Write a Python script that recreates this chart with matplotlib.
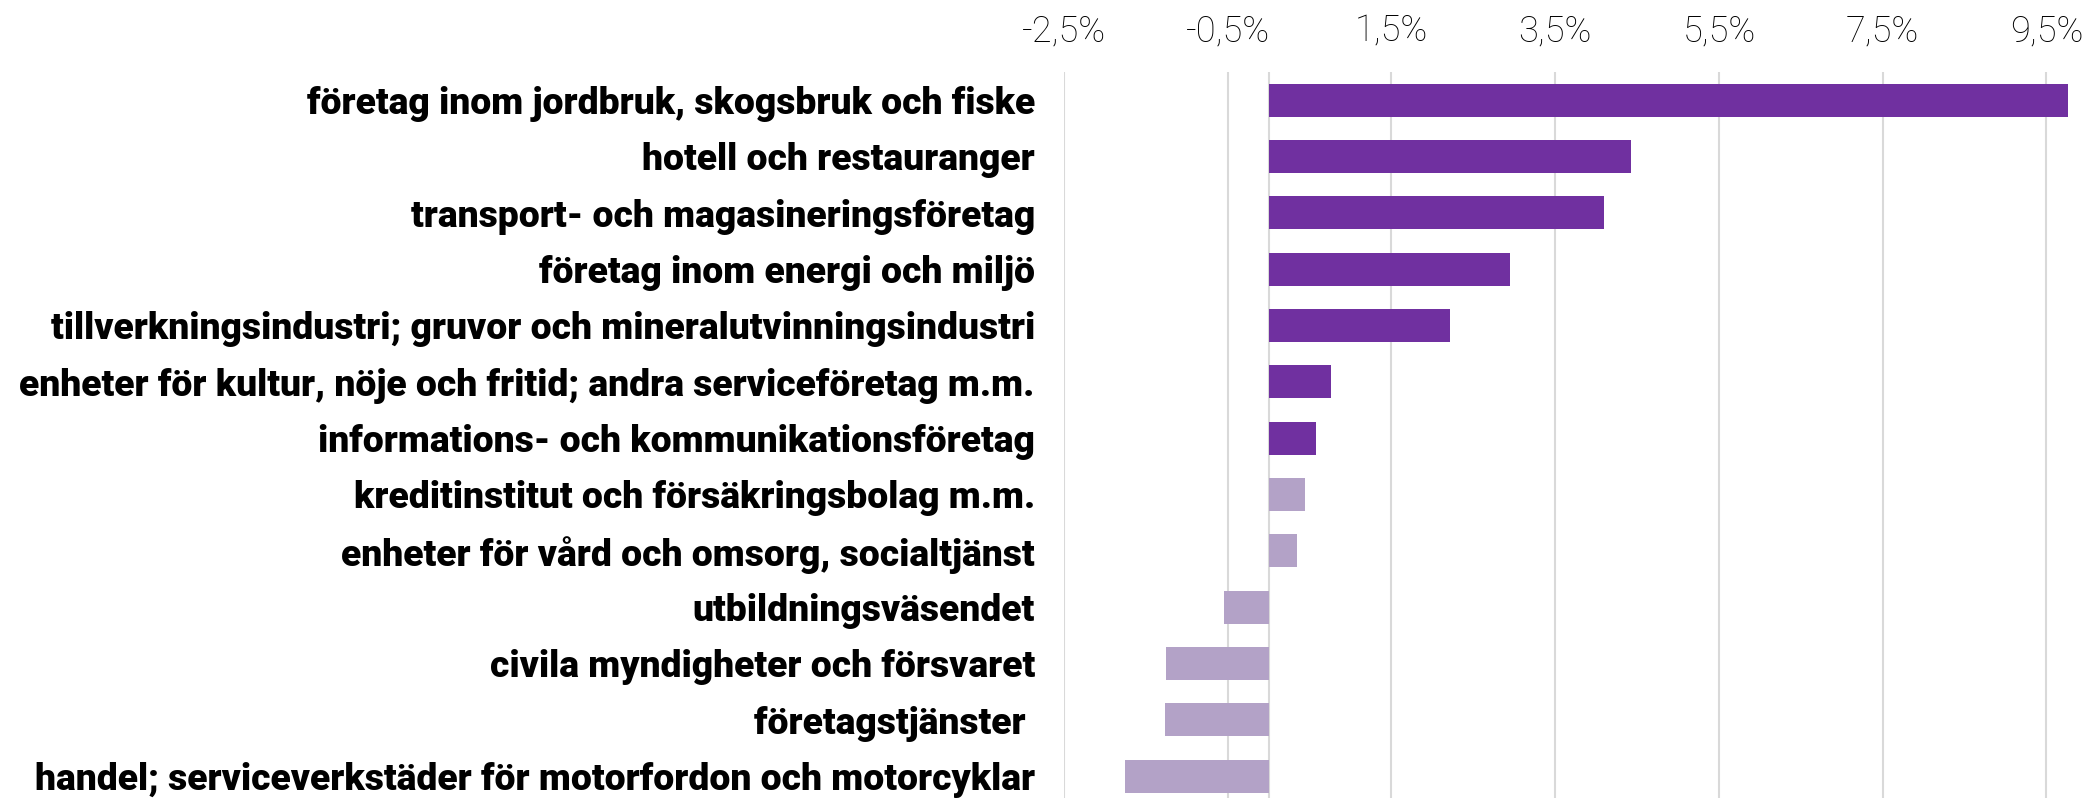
import numpy as np
import matplotlib
matplotlib.use('Agg')
import matplotlib.pyplot as plt
from matplotlib.ticker import FuncFormatter

# branscher, uppifrån och ned
branscher = [
    'företag inom jordbruk, skogsbruk och fiske',
    'hotell och restauranger',
    'transport- och magasineringsföretag',
    'företag inom energi och miljö',
    'tillverkningsindustri; gruvor och mineralutvinningsindustri',
    'enheter för kultur, nöje och fritid; andra serviceföretag m.m.',
    'informations- och kommunikationsföretag',
    'kreditinstitut och försäkringsbolag m.m.',
    'enheter för vård och omsorg, socialtjänst',
    'utbildningsväsendet',
    'civila myndigheter och försvaret',
    'företagstjänster ',
    'handel; serviceverkstäder för motorfordon och motorcyklar',
]
# förändring i procent
andel = [9.76, 4.43, 4.10, 2.95, 2.22, 0.76, 0.58, 0.44, 0.35, -0.55, -1.26, -1.27, -1.75]
# mörk = signifikant, ljus = ej signifikant
signifikant = [True] * 7 + [False] * 6

x_ticks = np.arange(-2.5, 10, 2)

MORK = '#7030A0'
LJUS = '#B3A2C7'
GRID = '#D9D9D9'

fig = plt.figure(figsize=(20.98, 7.98), dpi=100)
ax = fig.add_axes([1064 / 2098, 0.0, 1 - 1064 / 2098, 1 - 72 / 798])

y = np.arange(len(branscher))
farger = [MORK if s else LJUS for s in signifikant]
ax.barh(y, andel, height=0.585, color=farger, zorder=3)

ax.set_xlim(-2.5, 10.13)
ax.set_ylim(12.39, -0.5)
ax.set_xticks(x_ticks)
ax.xaxis.set_major_formatter(FuncFormatter(lambda v, p: f'{v:.1f}'.replace('.', ',') + '%'))
ax.xaxis.tick_top()
ax.grid(axis='x', color=GRID, linewidth=1.5, zorder=0)
ax.axvline(0, color=GRID, linewidth=1.5, zorder=1)

ax.set_yticks(y)
ax.set_yticklabels(branscher)
for lab in ax.get_yticklabels():
    lab.set_fontfamily('Roboto')
    lab.set_fontweight('black')
    lab.set_fontsize(26.8)
    lab.set_color('black')
for lab in ax.get_xticklabels():
    lab.set_fontfamily('Roboto')
    lab.set_fontweight('light')
    lab.set_fontsize(26)
    lab.set_color('black')

ax.tick_params(axis='y', length=0, pad=21)
ax.tick_params(axis='x', length=0, pad=16)
for s in ax.spines.values():
    s.set_visible(False)

fig.savefig('out.png', dpi=100, facecolor='white')
